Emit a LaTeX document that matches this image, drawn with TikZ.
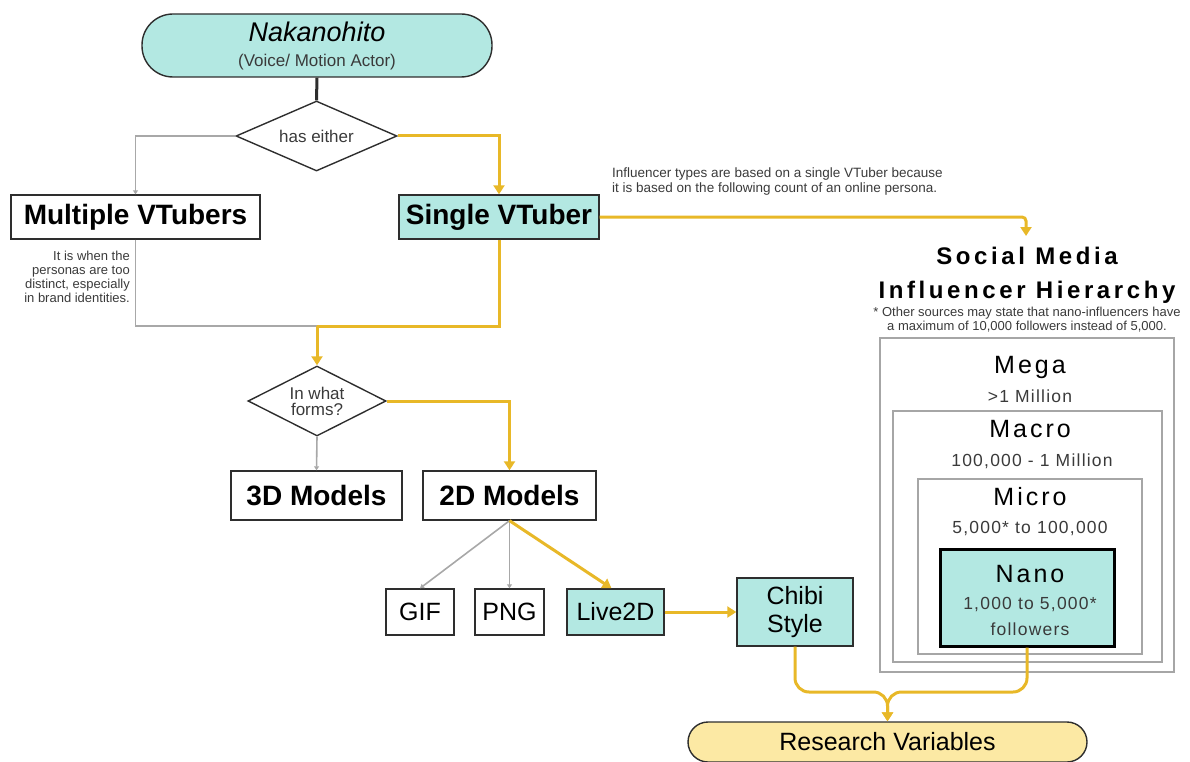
\documentclass[tikz,border=0pt]{standalone}
\usepackage{fontspec}
\setmainfont{Liberation Sans}
\newfontfamily\trkA[LetterSpace=15]{Liberation Sans}
\newfontfamily\trkB[LetterSpace=12]{Liberation Sans}
\newfontfamily\trkC[LetterSpace=7]{Liberation Sans}
\usetikzlibrary{shapes.geometric,arrows.meta}
\definecolor{teal1}{HTML}{B3E8E2}
\definecolor{gold1}{HTML}{E8B828}
\definecolor{cream}{HTML}{FCE9A4}
\definecolor{edge1}{HTML}{2E2E2E}
\definecolor{grayln}{HTML}{A8A8A8}
\definecolor{tierln}{HTML}{A6A6A6}
\definecolor{txtgray}{HTML}{3A3A3A}
\begin{document}
\begin{tikzpicture}[x=1pt,y=-1pt,
 box/.style={draw=edge1, line width=1.4pt, inner sep=0pt, align=center},
 dia/.style={diamond, draw=edge1, line width=1.4pt, inner sep=0pt, aspect=2, align=center},
 yl/.style={draw=gold1, line width=3pt},
 ya/.style={yl, -{Triangle[width=11pt,length=9pt]}},
 gl/.style={draw=grayln, line width=1.6pt},
 ga/.style={gl, -{Triangle[width=5pt,length=4pt]}},
 tier/.style={draw=tierln, line width=1.8pt, inner sep=0pt},
 boldbig/.style={font=\fontsize{28}{30}\selectfont\bfseries},
 midtxt/.style={font=\fontsize{25}{28}\selectfont},
 tiername/.style={anchor=base, inner sep=0pt, font={\trkB\fontsize{25}{28}\selectfont}},
 tierval/.style={anchor=base, inner sep=0pt, font={\trkC\fontsize{17.5}{20}\selectfont}, text=txtgray},
 ]
\path[use as bounding box] (0,0) rectangle (1190,762);

% top
\node[box, fill=teal1, rounded corners=31pt, minimum width=350pt, minimum height=63pt] (nak) at (317,45.5) {};
\node[anchor=base, inner sep=0pt, font=\fontsize{27}{30}\selectfont\itshape] (nakt) at (317,41.5) {Nakanohito};
\node[anchor=base, inner sep=0pt, font=\fontsize{17}{20}\selectfont, text=txtgray] (naks) at (317,67) {(Voice/ Motion Actor)};

\node[dia, minimum width=161pt, minimum height=70pt, font=\fontsize{17}{20}\selectfont, text=txtgray] (d1) at (316.5,136) {has either};
\draw[line width=3pt, edge1] (nak.south) -- (d1.north);

\node[box, boldbig, minimum width=249pt, minimum height=44pt] (mult) at (135.5,217) {Multiple VTubers};
\node[box, boldbig, fill=teal1, minimum width=200pt, minimum height=44pt] (single) at (499,217) {Single VTuber};

\node[anchor=north east, align=right, inner sep=0pt, font=\fontsize{13}{14}\selectfont, text=txtgray] (note) at (130,251) {It is when the\\personas are too\\distinct, especially\\in brand identities.};

\draw[ga] (d1.west) -| (mult.north);
\draw[ya] (d1.east) -| (single.north);
\coordinate (j1) at (317,326);
\draw[gl] (mult.south) |- (j1);
\draw[yl] (single.south) |- (j1);

% forms
\node[dia, minimum width=138pt, minimum height=70pt, font=\fontsize{17}{16}\selectfont, text=txtgray] (d2) at (317,401) {In what\\forms?};
\draw[ya] (j1) -- (d2.north);

\node[box, boldbig, minimum width=171pt, minimum height=49pt] (m3d) at (316.5,495.5) {3D Models};
\node[box, boldbig, minimum width=173pt, minimum height=49pt] (m2d) at (509.5,495.5) {2D Models};
\draw[ga] (d2.south) -- (m3d.north);
\draw[ya] (d2.east) -| (m2d.north);

\node[box, midtxt, minimum width=68pt, minimum height=46pt] (gif) at (420,612) {GIF};
\node[box, midtxt, minimum width=69pt, minimum height=46pt] (png) at (509.5,612) {PNG};
\node[box, midtxt, fill=teal1, minimum width=97pt, minimum height=46pt] (live) at (615.5,612) {Live2D};
\node[box, midtxt, fill=teal1, minimum width=116pt, minimum height=68pt] (chibi) at (795,612) {Chibi\\Style};

\draw[ga] (m2d.south) -- (gif.north);
\draw[ga] (m2d.south) -- (png.north);
\draw[ya] (m2d.south) -- ([xshift=-4pt]live.north);
\draw[ya] (live.east) -- (chibi.west);

% influencer note
\node[anchor=base west, align=left, inner sep=0pt, font=\fontsize{13.5}{15}\selectfont, text=txtgray] (infl) at (612,193) {Influencer types are based on a single VTuber because\\it is based on the following count of an online persona.};
\coordinate (smin) at (1026,236);
\draw[ya, rounded corners=4pt] (single.east) -| (smin);

% hierarchy title
\node[anchor=base, inner sep=0pt, font={\trkA\bfseries\fontsize{24}{26}\selectfont}] (smt1) at (1027,264) {Social Media};
\node[anchor=base, inner sep=0pt, font={\trkA\bfseries\fontsize{24}{26}\selectfont}] (smt2) at (1027,298) {Influencer Hierarchy};
\node[anchor=base, inner sep=0pt, align=center, font=\fontsize{13}{14}\selectfont, text=txtgray] (fn1) at (1027,316) {* Other sources may state that nano-influencers have};
\node[anchor=base, inner sep=0pt, align=center, font=\fontsize{13}{14}\selectfont, text=txtgray] (fn2) at (1027,330) {a maximum of 10,000 followers instead of 5,000.};

% tiers
\node[tier, minimum width=294pt, minimum height=334pt] (mega) at (1027,505) {};
\node[tier, minimum width=269pt, minimum height=251pt] (macro) at (1027.5,536.5) {};
\node[tier, minimum width=224pt, minimum height=175pt] (micro) at (1030,566.5) {};
\node[draw=black, line width=3pt, fill=teal1, minimum width=174pt, minimum height=97pt, inner sep=0pt] (nano) at (1027,597.5) {};

\node[tiername] (t1) at (1030,373) {Mega};
\node[tierval] (v1) at (1030,402) {>1 Million};
\node[tiername] (t2) at (1030,437) {Macro};
\node[tierval] (v2) at (1032,466) {100,000 - 1 Million};
\node[tiername] (t3) at (1030,505) {Micro};
\node[tierval] (v3) at (1030,533) {5,000* to 100,000};
\node[tiername] (t4) at (1030,582) {Nano};
\node[tierval] (v4) at (1030,609) {1,000 to 5,000*};
\node[tierval] (v5) at (1030,635) {followers};

% research
\node[box, midtxt, fill=cream, rounded corners=20pt, minimum width=399pt, minimum height=40pt] (res) at (887.5,742) {Research Variables};
\coordinate (mrg) at (887.5,692);
\draw[ya, rounded corners=14pt] (chibi.south) |- (mrg) -- (res.north);
\draw[ya, rounded corners=14pt] (nano.south) |- (mrg) -- (res.north);
\end{tikzpicture}
\end{document}
